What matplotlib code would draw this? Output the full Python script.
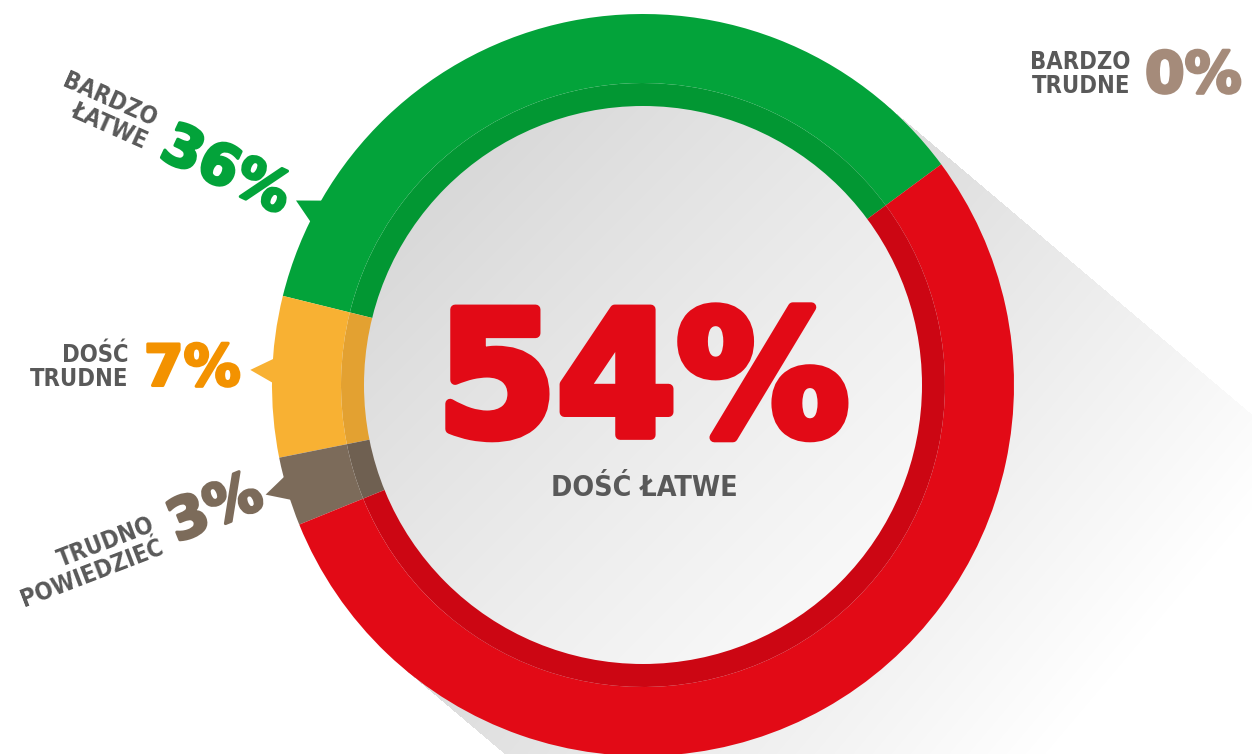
import numpy as np
import matplotlib
matplotlib.use("Agg")
import matplotlib.pyplot as plt
from matplotlib.patches import Circle, Polygon
import matplotlib.patheffects as pe

# ---------------- data ----------------
categories = ["BARDZO\nŁATWE", "DOŚĆ\nTRUDNE", "TRUDNO\nPOWIEDZIEĆ", "DOŚĆ ŁATWE", "BARDZO\nTRUDNE"]
values = [36, 7, 3, 54, 0]
pct_labels = ["36%", "7%", "3%", "54%", "0%"]
ring_colors = ["#03a33a", "#f8b133", "#7c6b5a", "#e20a16", "#a58b7a"]
band_colors = ["#029733", "#e3a131", "#6f6051", "#cc0613", "#a58b7a"]
text_colors = ["#03a33a", "#f39200", "#7c6b5a", "#e20a16", "#a58b7a"]

# ---------------- layout ----------------
W, H = 1252, 754
CX, CY = 643, H - 385
R_OUT, R_BAND, R_IN = 371, 302, 279
START = 36.5
GREY = "#595959"

fig = plt.figure(figsize=(W / 100, H / 100), dpi=100)
ax = fig.add_axes([0, 0, 1, 1])
ax.set_xlim(0, W)
ax.set_ylim(0, H)
ax.axis("off")

# ---- long shadow ----
d = np.array([0.763, -0.646]); d /= np.linalg.norm(d)
n = np.array([-d[1], d[0]])
xs = np.arange(W) + 0.5
ys = np.arange(H) + 0.5
X, Y = np.meshgrid(xs, ys)
rx, ry = X - CX, Y - CY
along = rx * d[0] + ry * d[1]
perp = rx * n[0] + ry * n[1]
alpha = 0.15 * np.clip(1 - along / 560, 0, 1)
alpha[(np.abs(perp) > R_OUT) | (along < 0)] = 0
rgba = np.zeros((H, W, 4))
rgba[..., 3] = alpha
ax.imshow(rgba, extent=(0, W, 0, H), origin="lower", zorder=0, interpolation="bilinear")

# ---- pointers ----
ptr_angles = [152.0, 177.8, 196.2]
for ang, col in zip(ptr_angles, ring_colors[:3]):
    a0, a1 = np.deg2rad(ang - 2.8), np.deg2rad(ang + 2.8)
    tip = np.deg2rad(ang)
    pts = [(CX + 360 * np.cos(a0), CY + 360 * np.sin(a0)),
           (CX + 393 * np.cos(tip), CY + 393 * np.sin(tip)),
           (CX + 360 * np.cos(a1), CY + 360 * np.sin(a1))]
    ax.add_patch(Polygon(pts, closed=True, facecolor=col, edgecolor="none", zorder=1))

# ---- donut ----
nz = [i for i, v in enumerate(values) if v > 0]
pv = [values[i] for i in nz]
ax.pie(pv, colors=[ring_colors[i] for i in nz], startangle=START, counterclock=True,
       center=(CX, CY), radius=R_OUT, frame=True,
       wedgeprops=dict(width=R_OUT - R_BAND, edgecolor="none", linewidth=0, zorder=2))
ax.pie(pv, colors=[band_colors[i] for i in nz], startangle=START, counterclock=True,
       center=(CX, CY), radius=R_BAND, frame=True,
       wedgeprops=dict(width=R_BAND - R_IN + 1, edgecolor="none", linewidth=0, zorder=2))
ax.set_xlim(0, W)
ax.set_ylim(0, H)
ax.set_aspect("equal")
ax.axis("off")

# ---- inner gradient circle ----
circ = Circle((CX, CY), R_IN, facecolor="none", edgecolor="none")
ax.add_patch(circ)
g = np.linspace(0, 1, 300)
GX, GY = np.meshgrid(g, g)
t = np.clip((GX + GY) / 2, 0, 1)  # top-left dark -> bottom-right light
t = t ** 0.8
c0, c1 = 0.81, 0.995
val = c0 + (c1 - c0) * t
grad = np.dstack([val, val, val])
im = ax.imshow(grad, extent=(CX - R_IN, CX + R_IN, CY - R_IN, CY + R_IN),
               origin="upper", zorder=3, interpolation="bilinear")
im.set_clip_path(circ)

# ---- texts ----
lab_kw = dict(family="DejaVu Sans", fontstretch="condensed", fontweight="bold",
              color=GREY, fontsize=17, linespacing=1.0)


def pct_kw(col, size=41, stroke=2.2):
    return dict(family="DejaVu Sans", fontweight="bold", fontsize=size, color=col,
                path_effects=[pe.withStroke(linewidth=stroke, foreground=col)])


# BARDZO ŁATWE 36%
ax.text(151, H - 131, categories[0], ha="right", va="center", rotation=-24,
        rotation_mode="anchor", zorder=5, **lab_kw)
ax.text(164, H - 143, pct_labels[0], ha="left", va="center", rotation=-25,
        rotation_mode="anchor", zorder=5, **pct_kw(text_colors[0]))

# DOŚĆ TRUDNE 7%
ax.text(128, H - 367, categories[1], ha="right", va="center", zorder=5, **lab_kw)
ax.text(144, H - 370, pct_labels[1], ha="left", va="center", zorder=5,
        **pct_kw(text_colors[1]))

# TRUDNO POWIEDZIEĆ 3%
ax.text(158, H - 535, categories[2], ha="right", va="center", rotation=21,
        rotation_mode="anchor", zorder=5, **lab_kw)
ax.text(171, H - 528, pct_labels[2], ha="left", va="center", rotation=22,
        rotation_mode="anchor", zorder=5, **pct_kw(text_colors[2]))

# BARDZO TRUDNE 0%
ax.text(1130, H - 74, categories[4], ha="right", va="center", zorder=5, **lab_kw)
ax.text(1145, H - 77, pct_labels[4], ha="left", va="center", zorder=5,
        **pct_kw(text_colors[4]))

# centre 54% DOŚĆ ŁATWE
ax.text(643, H - 388, pct_labels[3], ha="center", va="center", zorder=5,
        **pct_kw(text_colors[3], size=124, stroke=7))
ax.text(644, H - 488, categories[3], ha="center", va="center", family="DejaVu Sans",
        fontstretch="condensed", fontweight="bold", fontsize=20.5, color=GREY, zorder=5)

fig.savefig("out.png", dpi=100, facecolor="white")
